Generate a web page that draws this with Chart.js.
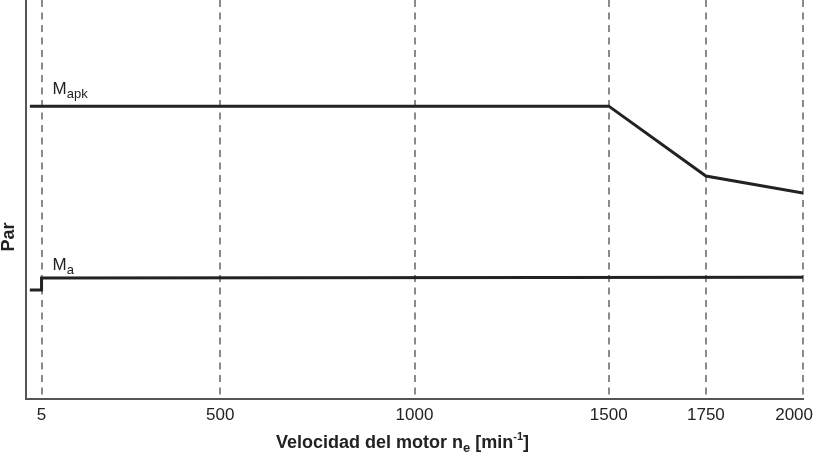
<!DOCTYPE html>
<html>
<head>
<meta charset="utf-8">
<script src="https://cdn.jsdelivr.net/npm/chart.js@4"></script>
<style>
    html, body { margin: 0; padding: 0; background: #fff; }
    #wrap { width: 815px; height: 457px; }
</style>
</head>
<body>
<div id="wrap"><canvas id="torqueChart" width="815" height="457"></canvas></div>
<script>
// engine speed ticks [min-1]
const speedTicks = [5, 500, 1000, 1500, 1750, 2000];

// M_apk curve (torque in % of axis height)
const mapkSpeed = [0, 1500, 1750, 2000];
const mapkTorque = [73.4, 73.4, 55.9, 51.6];

// M_a curve
const maSpeed = [0, 5, 5, 2000];
const maTorque = [27.3, 27.3, 30.3, 30.5];

const FONT = '"Liberation Sans", Arial, Helvetica, sans-serif';
const INK = '#222';

// the low speed end of the diagram is drawn stretched, like in the original
function axisPos(rpm) {
    if (rpm <= 5) return 10 + rpm * 6;
    if (rpm < 500) return 40 + (rpm - 5) * 460 / 495;
    return rpm;
}

function toPoints(xs, ys) {
    return xs.map((x, i) => ({ x: axisPos(x), y: ys[i] }));
}

// draws text pieces one after another, with sub/superscript offsets
function drawRich(ctx, x, y, parts, align) {
    let total = 0;
    parts.forEach(p => {
        ctx.font = `${p.bold ? 'bold ' : ''}${p.size}px ${FONT}`;
        total += ctx.measureText(p.t).width;
    });
    let cx = align === 'center' ? x - total / 2 : x;
    parts.forEach(p => {
        ctx.font = `${p.bold ? 'bold ' : ''}${p.size}px ${FONT}`;
        ctx.fillText(p.t, cx, y + (p.dy || 0));
        cx += ctx.measureText(p.t).width;
    });
}

const labelsPlugin = {
    id: 'labels',
    afterDraw(chart) {
        const ctx = chart.ctx;
        const xs = chart.scales.x, ys = chart.scales.y;
        ctx.save();
        ctx.fillStyle = INK;

        // tick labels, the last one kept inside the canvas
        ctx.font = `17px ${FONT}`;
        ctx.textBaseline = 'middle';
        ctx.textAlign = 'center';
        speedTicks.forEach(v => {
            const label = String(v);
            const w = ctx.measureText(label).width;
            let px = xs.getPixelForValue(axisPos(v));
            px = Math.min(px, chart.width - 2 - w / 2);
            ctx.fillText(label, px, xs.top + 16);
        });

        ctx.textBaseline = 'alphabetic';
        ctx.textAlign = 'left';

        const lx = xs.getPixelForValue(axisPos(5)) + 11;
        drawRich(ctx, lx, ys.getPixelForValue(mapkTorque[0]) - 12, [
            { t: 'M', size: 17 },
            { t: 'apk', size: 13, dy: 4 }
        ]);
        drawRich(ctx, lx, ys.getPixelForValue(maTorque[2]) - 8, [
            { t: 'M', size: 17 },
            { t: 'a', size: 13, dy: 4 }
        ]);

        // x axis title
        drawRich(ctx, (chart.chartArea.left + chart.chartArea.right) / 2 - 12, 448, [
            { t: 'Velocidad del motor n', size: 18, bold: true },
            { t: 'e', size: 13, bold: true, dy: 4 },
            { t: ' [min', size: 18, bold: true },
            { t: '-1', size: 11, bold: true, dy: -8 },
            { t: ']', size: 18, bold: true }
        ], 'center');

        // y axis title
        ctx.translate(9, 237);
        ctx.rotate(-Math.PI / 2);
        ctx.textAlign = 'center';
        ctx.textBaseline = 'middle';
        ctx.font = `bold 18px ${FONT}`;
        ctx.fillText('Par', 0, 0);
        ctx.restore();
    }
};

new Chart(document.getElementById('torqueChart').getContext('2d'), {
    type: 'line',
    data: {
        datasets: [{
            label: 'Mapk',
            data: toPoints(mapkSpeed, mapkTorque),
            borderColor: INK,
            borderWidth: 3,
            pointRadius: 0,
            tension: 0
        }, {
            label: 'Ma',
            data: toPoints(maSpeed, maTorque),
            borderColor: INK,
            borderWidth: 3,
            pointRadius: 0,
            tension: 0
        }]
    },
    options: {
        responsive: false,
        animation: false,
        events: [],
        layout: { padding: { top: 0, right: 12, left: 0, bottom: 0 } },
        plugins: {
            legend: { display: false },
            tooltip: { enabled: false }
        },
        scales: {
            x: {
                type: 'linear',
                min: 0,
                max: 2000,
                afterBuildTicks: scale => {
                    scale.ticks = speedTicks.map(v => ({ value: axisPos(v) }));
                },
                afterFit: scale => {
                    scale.height = 58;
                    scale.paddingLeft = 0;
                    scale.paddingRight = 0;
                },
                ticks: { display: false },
                grid: {
                    color: '#8a8a8a',
                    lineWidth: 2,
                    drawTicks: false
                },
                border: { color: '#555', width: 2, dash: [7, 5.5] }
            },
            y: {
                min: 0,
                max: 100,
                afterFit: scale => { scale.width = 26; },
                ticks: { display: false },
                grid: { display: false },
                border: { color: '#555', width: 2 }
            }
        }
    },
    plugins: [labelsPlugin]
});
</script>
</body>
</html>
